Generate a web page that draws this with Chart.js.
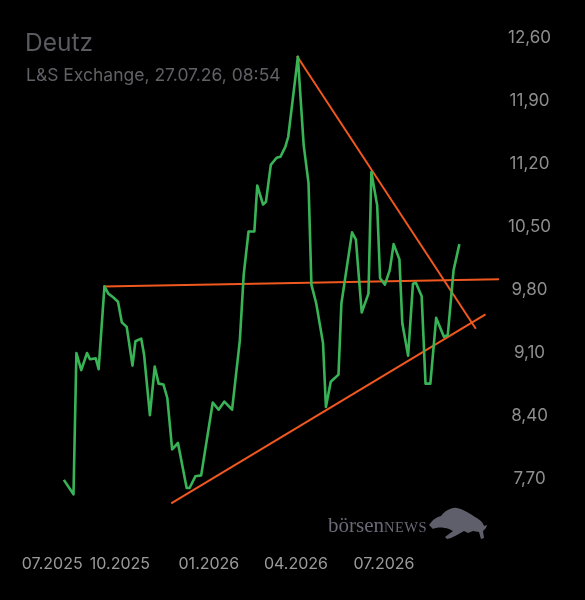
<!DOCTYPE html>
<html><head><meta charset="utf-8">
<script src="https://cdn.jsdelivr.net/npm/chart.js@4/dist/chart.umd.min.js"></script>
<style>
html,body{margin:0;padding:0;background:#000;}
#wrap{position:relative;width:585px;height:600px;background:#000;overflow:hidden;}
#c{position:absolute;left:0;top:0;}
.t{position:absolute;font-family:Inter,"Noto Sans",sans-serif;white-space:nowrap;}
#wm{position:absolute;left:328px;top:513px;font-family:"Liberation Serif","DejaVu Serif",serif;color:#6a6a76;white-space:nowrap;}
#wm .b{font-size:21px;}
#wm .n{font-size:14.5px;letter-spacing:0.5px;}
#bull{position:absolute;left:427px;top:505px;}
</style></head><body>
<div id="wrap">
<canvas id="c" width="585" height="600"></canvas>
<div class="t" style="left:25px;top:27px;font-size:24.5px;color:#5a5a60;line-height:30px;">Deutz</div>
<div class="t" style="left:26px;top:64px;font-size:17.5px;color:#606066;line-height:22px;">L&amp;S Exchange, 27.07.26, 08:54</div>
<div id="wm"><span class="b">börsen</span><span class="n">NEWS</span></div>
<svg id="bull" width="62" height="38" viewBox="0 0 62 38">
<path d="M2 20 C6 14 10 12 14 11 C18 6 24 2 30 3 C36 4 42 8 48 12 C52 14 56 17 57 21 L60 20 L59 23 L56 26 L57 33 L54 34 L52 27 L46 26 L41 28 L37 26 L30 30 L24 33 L20 34 L18 32 L22 29 L26 26 L22 24 C16 22 10 22 6 24 Z" fill="#5f5f6b"/>
</svg>
</div>
<script>
// Price series: days since 01.07.2025 and closing values (EUR)
const priceDays = [34,44,47,52,58,61,67,70,76,80,85,90,94,99,105,108,114,117,123,128,132,137,141,146,152,161,164,170,176,188,194,200,208,216,220,225,231,234,240,243,248,254,258,263,266,276,282,287,290,295,302,305,310,318,321,332,336,342,349,352,358,361,366,371,375,381,384,390,395,398,404,408,413,419,427,431,437,443];
const priceValues = [7.69,7.53,9.10,8.91,9.10,9.03,9.04,8.92,9.84,9.76,9.72,9.67,9.44,9.39,8.96,9.23,9.26,9.08,8.41,8.95,8.76,8.75,8.60,8.03,8.10,7.60,7.60,7.73,7.74,8.55,8.47,8.56,8.47,9.24,9.97,10.45,10.45,10.96,10.75,10.78,11.19,11.27,11.28,11.39,11.50,12.39,11.41,10.99,9.86,9.65,9.21,8.50,8.78,8.86,9.65,10.44,10.36,9.55,9.76,11.11,10.74,9.93,9.86,10.02,10.31,10.14,9.43,9.07,9.87,9.88,9.73,8.76,8.76,9.49,9.28,9.30,10.02,10.31];
// Trend lines
const resistanceDays = [75, 484];
const resistanceValues = [9.84, 9.92];
const downTrendDays = [275, 460];
const downTrendValues = [12.40, 9.37];
const upTrendDays = [145, 470];
const upTrendValues = [7.43, 9.53];
// Axis ticks
const yTicks = [7.7, 8.4, 9.1, 9.8, 10.5, 11.2, 11.9, 12.6];
const xTickDays = [22, 92, 184, 274, 365];
const xTickLabels = ['07.2025','10.2025','01.2026','04.2026','07.2026'];

const toPts = (xs, ys) => xs.map((x, i) => ({x: x, y: ys[i]}));
const GREEN = '#38b457';
const ORANGE = '#f0581f';

new Chart(document.getElementById('c'), {
  type: 'line',
  data: {
    datasets: [
      {data: toPts(priceDays, priceValues), borderColor: GREEN, borderWidth: 2.6, pointRadius: 0, tension: 0, borderJoinStyle: 'round'},
      {data: toPts(resistanceDays, resistanceValues), borderColor: ORANGE, borderWidth: 2, pointRadius: 0},
      {data: toPts(downTrendDays, downTrendValues), borderColor: ORANGE, borderWidth: 2, pointRadius: 0},
      {data: toPts(upTrendDays, upTrendValues), borderColor: ORANGE, borderWidth: 2, pointRadius: 0}
    ]
  },
  options: {
    responsive: false,
    animation: false,
    layout: {padding: {left: 0, right: 0, top: 20, bottom: 20}},
    plugins: {legend: {display: false}, title: {display: false}, tooltip: {enabled: false}},
    scales: {
      x: {
        type: 'linear', min: -32, max: 485,
        grid: {display: false, drawTicks: false},
        border: {display: false},
        afterBuildTicks: (axis) => { axis.ticks = xTickDays.map(v => ({value: v})); },
        afterFit: (axis) => { axis.height = 56; axis.paddingLeft = 0; axis.paddingRight = 0; },
        ticks: {
          autoSkip: false, maxRotation: 0, padding: 31,
          color: '#9a9a9a', font: {family: 'Inter', size: 16},
          callback: (v) => { const i = xTickDays.indexOf(v); return i >= 0 ? xTickLabels[i] : ''; }
        }
      },
      y: {
        type: 'linear', position: 'right', min: 7.2, max: 12.8,
        grid: {display: false, drawTicks: false},
        border: {display: false},
        afterBuildTicks: (axis) => { axis.ticks = yTicks.map(v => ({value: v})); },
        afterFit: (axis) => { axis.width = 85; },
        ticks: {
          padding: 8, crossAlign: 'center',
          color: '#8e8e8e', font: {family: 'Inter', size: 17},
          callback: (v) => v.toFixed(2).replace('.', ',')
        }
      }
    }
  }
});
</script>
</body></html>
